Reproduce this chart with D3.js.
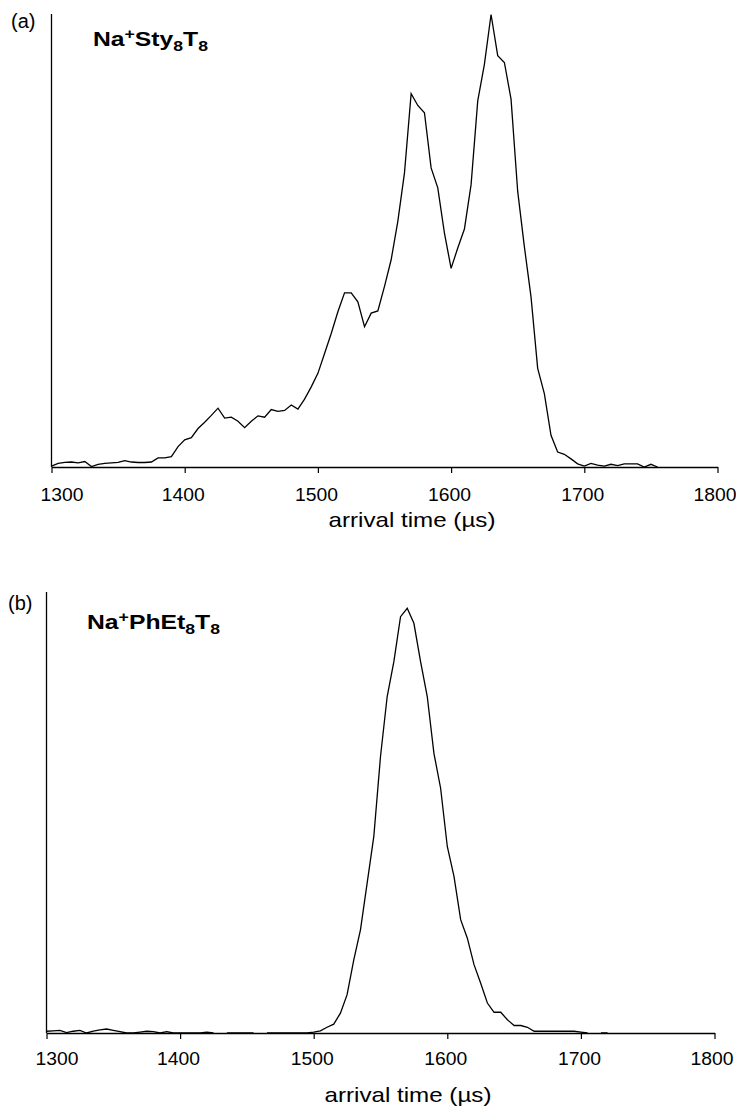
<!DOCTYPE html>
<html><head><meta charset="utf-8">
<script src="https://cdn.jsdelivr.net/npm/d3@7"></script>
<style>body{margin:0;background:#fff}</style>
</head><body>
<svg id="c" width="736" height="1111"></svg>
<script>
// x-axis ticks (arrival time, µs)
const xTicks = [1300, 1400, 1500, 1600, 1700, 1800];

// sampling grid (µs)
const timesA = [1300,1305,1310,1315,1320,1325,1330,1335,1340,1345,1350,1355,1360,1365,1370,1375,1380,1385,1390,1395,
  1400,1405,1410,1415,1420,1425,1430,1435,1440,1445,1450,1455,1460,1465,1470,1475,1480,1485,1490,1495,
  1500,1505,1510,1515,1520,1525,1530,1535,1540,1545,1550,1555,1560,1565,1570,1575,1580,1585,1590,1595,
  1600,1605,1610,1615,1620,1625,1630,1635,1640,1645,1650,1655,1660,1665,1670,1675,1680,1685,1690,1695,
  1700,1705,1710,1715,1720,1725,1730,1735,1740,1745,1750,1755];
// (a) Na+Sty8T8 intensity (relative)
const valuesA = [0.2,0.8,1.0,1.1,0.9,1.2,0.1,0.6,0.8,0.9,1.0,1.4,1.1,1.0,1.0,1.1,2.0,2.0,2.3,4.5,
  6.0,6.5,8.5,9.9,11.4,13.0,10.8,11.0,10.1,8.7,10.1,11.3,11.0,12.7,12.3,12.5,13.7,12.8,15.0,17.7,
  20.7,25.1,29.5,34.3,38.5,38.5,36.5,31.0,34.0,34.5,39.9,45.8,54.3,65.0,82.5,79.9,78.3,66.1,61.7,51.7,
  43.9,48.4,52.6,62.4,80.9,89.0,100,90.9,89.4,81.3,60.9,48.7,37.6,21.8,16.2,7.0,3.3,2.8,1.8,0.7,
  0.2,0.8,0.4,0.2,0.6,0.3,0.7,0.7,0.7,0,0.6,0];

const timesB = [1300,1305,1310,1315,1320,1325,1330,1335,1340,1345,1350,1355,1360,1365,1370,1375,1380,1385,1390,1395,
  1400,1405,1410,1415,1420,1425,1430,1435,1440,1445,1450,1455,1460,1465,1470,1475,1480,1485,1490,1495,
  1500,1505,1510,1515,1520,1525,1530,1535,1540,1545,1550,1555,1560,1565,1570,1575,1580,1585,1590,1595,
  1600,1605,1610,1615,1620,1625,1630,1635,1640,1645,1650,1655,1660,1665,1670,1675,1680,1685,1690,1695,
  1700,1705,1710,1715,1720];
// (b) Na+PhEt8T8 intensity (relative); null = no data drawn
const valuesB = [0.4,0.5,0.6,0.1,0.4,0.6,0,0.4,0.7,0.9,0.6,0.3,0,0,0.2,0.4,0.3,0,0.3,0,
  0,0,0,0,0.2,0,null,0,0,0,0,0,null,0,0,0,0,0,0,0,
  0.2,0.5,1.3,2.0,4.5,8.7,16.6,23.4,34.0,44.6,62.7,76.3,84.2,94.4,96.3,92.9,84.2,76.3,63.4,55.5,
  42.3,35.5,25.7,21.5,15.5,11.3,6.8,4.7,4.7,3.0,1.7,1.7,1.3,0.4,0.4,0.4,0.4,0.4,0.4,0.4,
  0.2,0,null,0,0];

const svg = d3.select("#c");
const FONT = "'Liberation Sans', Arial, Helvetica, sans-serif";

function panel(cfg) {
  const x = d3.scaleLinear().domain([1300, 1800]).range([cfg.left, cfg.right]);
  const y = d3.scaleLinear().domain([0, 100]).range([cfg.bottom, cfg.top]);
  const g = svg.append("g");

  // y axis line (no ticks)
  g.append("line").attr("x1", cfg.left).attr("x2", cfg.left)
    .attr("y1", cfg.bottom).attr("y2", cfg.axisTop)
    .attr("stroke", "#000").attr("stroke-width", 1.3);

  // x axis
  const ax = g.append("g").attr("transform", `translate(0,${cfg.bottom})`)
    .call(d3.axisBottom(x).tickValues(xTicks).tickSize(6).tickSizeOuter(0).tickFormat(d3.format("d")));
  ax.select(".domain").attr("stroke", "#000").attr("stroke-width", 1.3);
  ax.selectAll(".tick line").attr("stroke", "#000").attr("stroke-width", 1.2);
  ax.selectAll(".tick text")
    .attr("font-family", FONT).attr("font-size", 19).attr("fill", "#000")
    .attr("y", cfg.labelDy).attr("dy", 0)
    .attr("textLength", 43).attr("lengthAdjust", "spacingAndGlyphs")
    .attr("dx", (d, i) => i === 0 ? 10 : (i === 5 ? -3 : -2));

  // axis title
  const t = g.append("text").attr("x", cfg.titleX).attr("y", cfg.titleY)
    .attr("text-anchor", "middle").attr("font-family", FONT).attr("font-size", 21)
    .attr("fill", "#000").attr("textLength", 167).attr("lengthAdjust", "spacingAndGlyphs");
  t.append("tspan").text("arrival time (");
  t.append("tspan").text("µ");
  t.append("tspan").text("s)");

  // data line
  const data = cfg.times.map((tm, i) => ({t: tm, v: cfg.values[i]}));
  const line = d3.line().defined(d => d.v !== null).x(d => x(d.t)).y(d => y(d.v));
  g.append("path").datum(data).attr("d", line)
    .attr("fill", "none").attr("stroke", "#000").attr("stroke-width", 1.3)
    .attr("stroke-linejoin", "miter");

  // panel letter
  g.append("text").attr("x", cfg.letterX).attr("y", cfg.letterY)
    .attr("font-family", FONT).attr("font-size", 20).attr("fill", "#000").text(cfg.letter);

  // sample name
  const n = g.append("text").attr("x", cfg.nameX).attr("y", cfg.nameY)
    .attr("font-family", FONT).attr("font-size", 21).attr("font-weight", "bold").attr("fill", "#000")
    .attr("textLength", cfg.nameW).attr("lengthAdjust", "spacingAndGlyphs");
  cfg.name.forEach(p => {
    const s = n.append("tspan").text(p.s);
    if (p.sup) s.attr("font-size", 15).attr("baseline-shift", "7");
    if (p.sub) s.attr("font-size", 15).attr("baseline-shift", "-5");
  });
}

panel({
  left: 51.5, right: 717.5, bottom: 467, top: 14.5, axisTop: 14,
  labelDy: 34, titleX: 412, titleY: 527,
  times: timesA, values: valuesA,
  letter: "(a)", letterX: 11, letterY: 28,
  nameX: 93, nameY: 46, nameW: 115,
  name: [{s:"Na"},{s:"+",sup:true},{s:"Sty"},{s:"8",sub:true},{s:"T"},{s:"8",sub:true}]
});

panel({
  left: 46.5, right: 714.5, bottom: 1033, top: 592, axisTop: 592,
  labelDy: 32, titleX: 408, titleY: 1102,
  times: timesB, values: valuesB,
  letter: "(b)", letterX: 8, letterY: 610,
  nameX: 87, nameY: 629, nameW: 133,
  name: [{s:"Na"},{s:"+",sup:true},{s:"PhEt"},{s:"8",sub:true},{s:"T"},{s:"8",sub:true}]
});
</script>
</body></html>
